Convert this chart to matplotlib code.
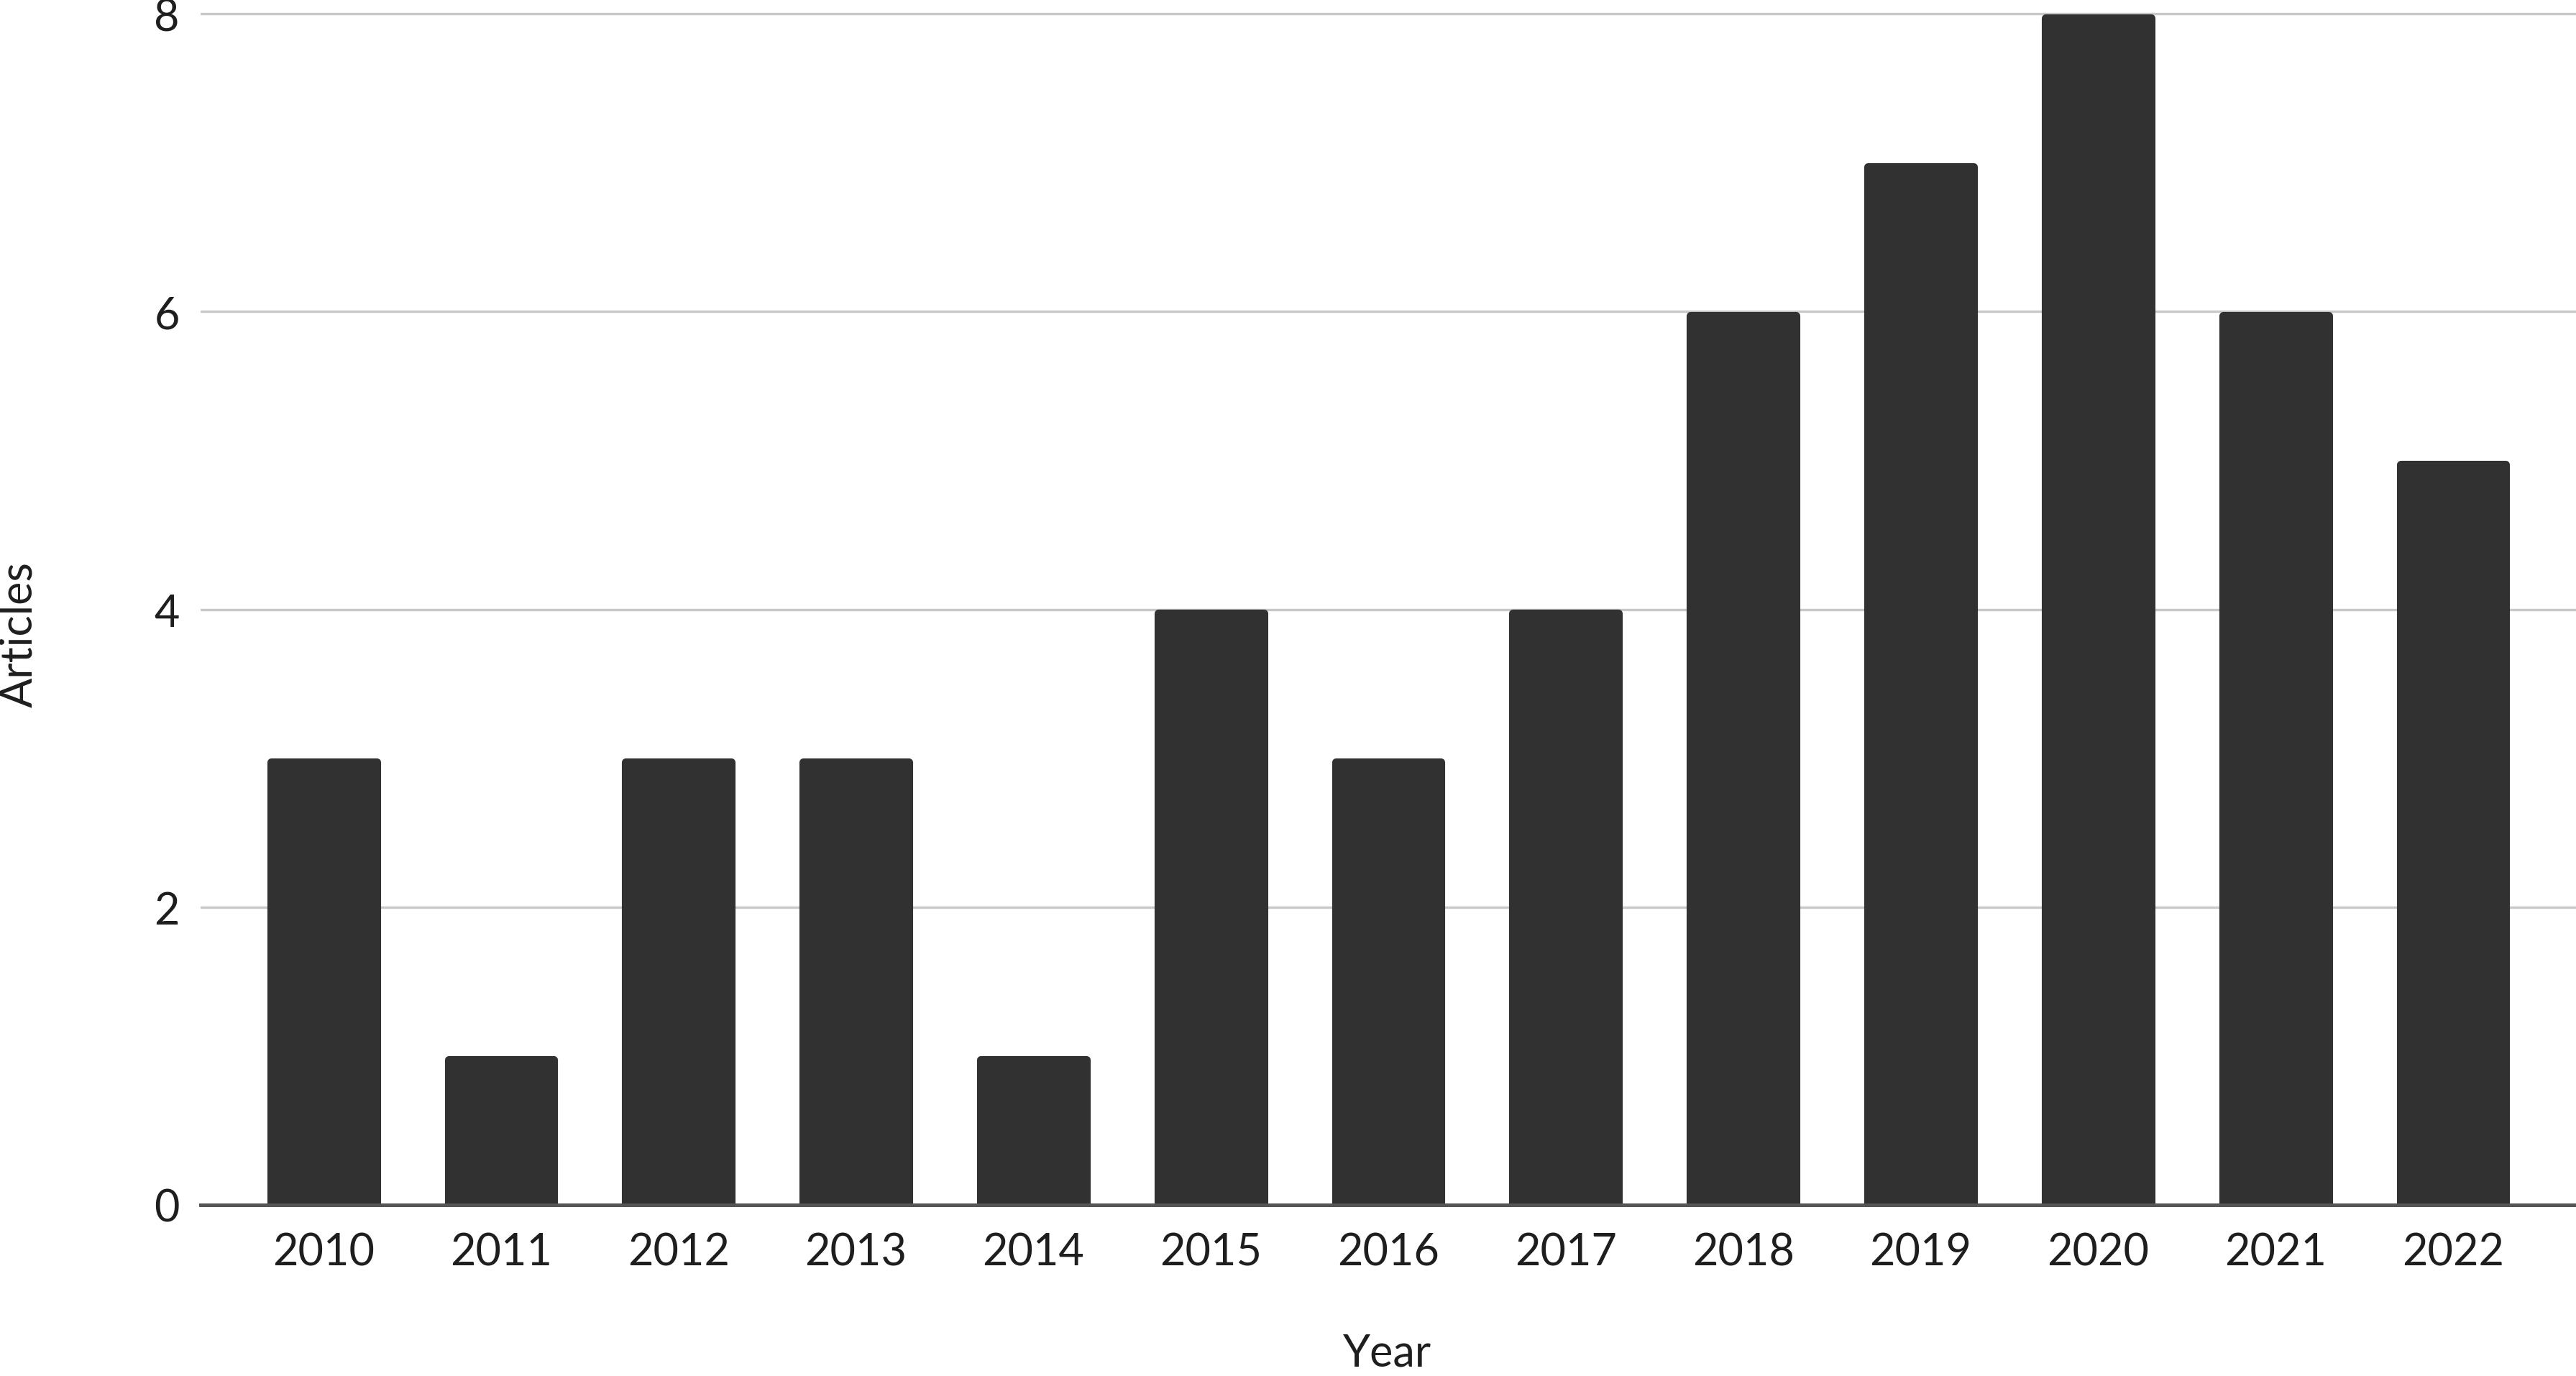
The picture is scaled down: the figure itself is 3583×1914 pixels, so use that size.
import matplotlib
matplotlib.use("Agg")
import matplotlib.pyplot as plt
import numpy as np

# Articles per year
years = ['2010', '2011', '2012', '2013', '2014', '2015', '2016',
         '2017', '2018', '2019', '2020', '2021', '2022']
articles = [3, 1, 3, 3, 1, 4, 3, 4, 6, 7, 8, 6, 5]
y_ticks = [0, 2, 4, 6, 8]

BAR = '#313131'
TEXT = '#1e1e1e'


def main():
    plt.rcParams['font.family'] = ['Lato', 'DejaVu Sans']

    fig = plt.figure(figsize=(35.83, 19.15), dpi=100)
    ax = fig.add_axes([0.0779, 0.1243, 0.9221, 0.8757])

    x = np.arange(len(years))

    # round-joined outline gives the slightly rounded bar corners;
    # shrink the fill so the outer edge lands on the value
    lw_pt = 8.0
    unit_px = (1915 * 0.8757) / 8.097
    stroke_y = (lw_pt / 72 * 100 / 2) / unit_px
    stroke_x = (lw_pt / 72 * 100) / 246.8
    heights = np.array(articles) - stroke_y
    bars = ax.bar(x, heights, width=0.64 - stroke_x, color=BAR,
                  edgecolor=BAR, linewidth=lw_pt, zorder=3)
    for b in bars:
        b.set_joinstyle('round')

    ax.set_xlim(-0.693, len(years) - 1 + 0.693)
    ax.set_ylim(0, 8.097)
    ax.set_yticks(y_ticks)
    ax.set_xticks(x)
    ax.set_xticklabels(years)

    ax.yaxis.grid(True, color='#c8c8c8', linewidth=2.4, zorder=0)
    ax.set_axisbelow(True)
    for side in ['top', 'right', 'left']:
        ax.spines[side].set_visible(False)
    ax.spines['bottom'].set_color('#555555')
    ax.spines['bottom'].set_linewidth(3.6)
    ax.spines['bottom'].set_zorder(4)

    ax.tick_params(axis='x', length=0, pad=27, labelsize=44, labelcolor=TEXT)
    ax.tick_params(axis='y', length=0, pad=21, labelsize=44, labelcolor=TEXT)

    # x label sits right at the bottom edge, as in the source image
    fig.text(0.5386, 0.002, 'Year', ha='center', va='bottom',
             fontsize=44, color=TEXT)
    fig.text(0.0075, 0.539, 'Articles', ha='center', va='center',
             rotation=90, fontsize=44, color=TEXT)

    fig.savefig('out.png', dpi=100, facecolor='white')


if __name__ == '__main__':
    main()
